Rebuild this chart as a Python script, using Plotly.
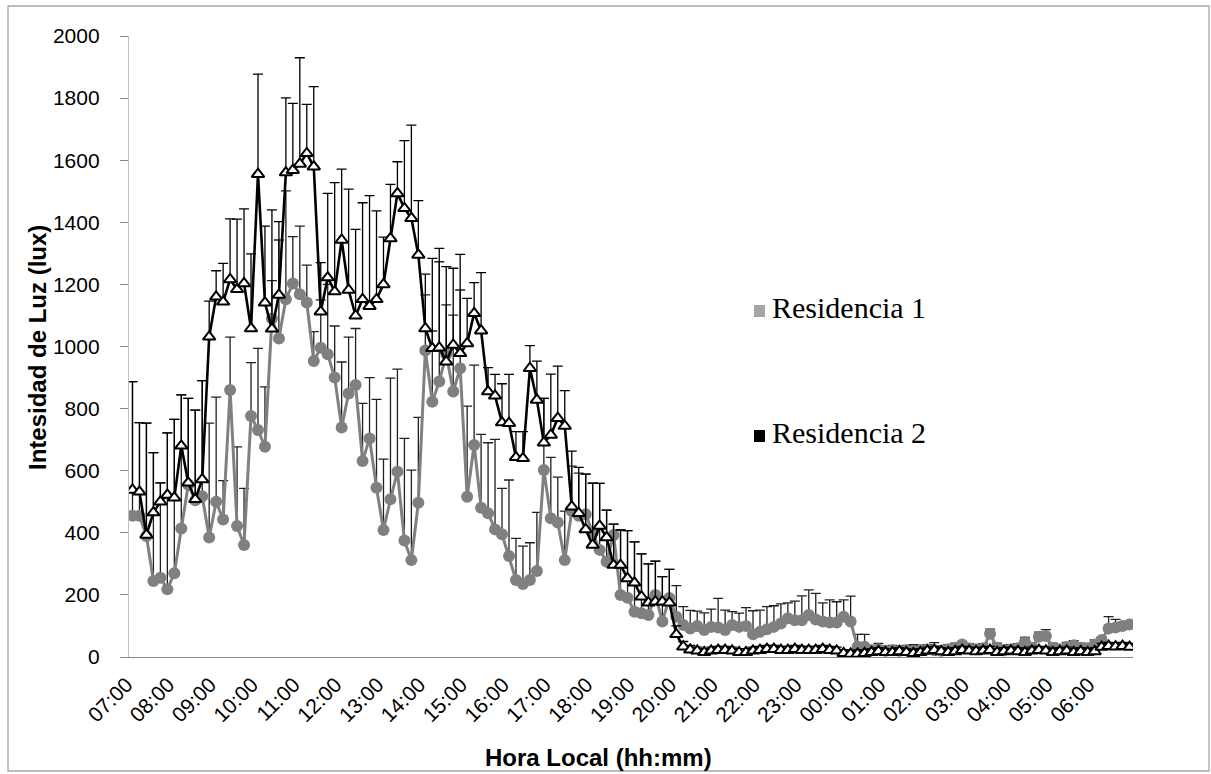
import plotly.graph_objects as go

# 10-minute intervals starting at 07:00 (144 samples over 24 h)
n_points = 144
x_idx = list(range(n_points))

hour_labels = ["07:00", "08:00", "09:00", "10:00", "11:00", "12:00", "13:00", "14:00",
               "15:00", "16:00", "17:00", "18:00", "19:00", "20:00", "21:00", "22:00",
               "23:00", "00:00", "01:00", "02:00", "03:00", "04:00", "05:00", "06:00"]
hour_positions = [6 * k for k in range(len(hour_labels))]

# Residencia 1 – mean light intensity (lux)
res1 = [455, 455, 390, 245, 255, 218, 270, 414, 555, 505,
        518, 385, 500, 443, 860, 422, 361, 776, 731, 677,
        1090, 1026, 1152, 1203, 1168, 1142, 953, 996, 975, 900,
        739, 849, 876, 631, 704, 545, 409, 508, 597, 375,
        312, 497, 987, 822, 887, 975, 855, 930, 516, 683,
        481, 463, 411, 395, 325, 248, 235, 248, 277, 602,
        447, 433, 312, 470, 455, 460, 400, 345, 307, 393,
        200, 191, 146, 141, 135, 200, 114, 190, 130, 103,
        92, 100, 87, 97, 95, 87, 103, 97, 100, 73,
        81, 89, 97, 108, 125, 118, 118, 135, 121, 114,
        111, 111, 130, 114, 33, 33, 22, 25, 20, 22,
        20, 22, 18, 22, 25, 22, 20, 25, 30, 40,
        28, 25, 28, 75, 30, 22, 25, 28, 48, 30,
        65, 68, 30, 25, 32, 38, 30, 28, 40, 55,
        92, 95, 100, 105]

# Residencia 1 – standard deviation (upper bar only)
res1_err = [432, 300, 363, 413, 306, 504, 495, 430, 278, 290,
            372, 368, 337, 125, 170, 255, 182, 172, 263, 193,
            122, 317, 349, 151, 220, 120, 95, 154, 225, 166,
            211, 181, 182, 186, 196, 285, 228, 390, 330, 329,
            290, 275, 179, 228, 386, 159, 246, 252, 292, 257,
            236, 227, 290, 148, 245, 134, 122, 120, 189, 231,
            196, 146, 158, 145, 137, 129, 160, 214, 166, 35,
            209, 216, 225, 191, 165, 109, 145, 92, 100, 59,
            58, 48, 55, 57, 94, 64, 43, 44, 59, 76,
            70, 73, 68, 63, 49, 62, 79, 81, 84, 60,
            73, 67, 54, 82, 40, 40, 15, 19, 15, 15,
            15, 15, 22, 15, 15, 24, 15, 15, 15, 9,
            15, 15, 15, 15, 15, 15, 15, 15, 15, 15,
            15, 20, 15, 15, 15, 15, 15, 15, 15, 9,
            38, 26, 12, 7]

# Residencia 2 – mean light intensity (lux)
res2 = [538, 532, 393, 465, 500, 522, 513, 680, 561, 508,
        572, 1031, 1160, 1144, 1216, 1184, 1203, 1058, 1555, 1141,
        1057, 1166, 1560, 1568, 1588, 1622, 1579, 1112, 1222, 1177,
        1343, 1182, 1099, 1152, 1130, 1152, 1200, 1348, 1493, 1445,
        1413, 1295, 1058, 994, 996, 951, 1005, 978, 1010, 1107,
        1051, 855, 841, 755, 753, 643, 640, 930, 828, 690,
        715, 769, 744, 484, 463, 411, 361, 422, 385, 296,
        296, 253, 239, 194, 175, 178, 178, 175, 73, 33,
        23, 20, 15, 20, 22, 22, 20, 15, 15, 20,
        22, 25, 25, 22, 22, 25, 22, 22, 22, 25,
        22, 20, 12, 10, 10, 12, 15, 18, 15, 15,
        18, 15, 12, 15, 20, 22, 18, 15, 18, 22,
        20, 18, 20, 22, 15, 18, 20, 18, 15, 20,
        22, 20, 15, 18, 20, 15, 18, 15, 18, 32,
        35, 33, 35, 32]

# Residencia 2 – standard deviation (upper bar only)
res2_err = [349, 223, 360, 193, 61, 200, 252, 164, 272, 287,
            318, 115, 84, 124, 195, 226, 240, 240, 322, 247,
            383, 236, 241, 215, 342, 158, 258, 158, 271, 351,
            228, 325, 278, 311, 356, 285, 152, 174, 102, 218,
            300, 175, 175, 290, 320, 306, 247, 319, 145, 99,
            187, 77, 69, 125, 157, 83, 86, 73, 125, 143,
            196, 168, 114, 179, 148, 178, 199, 137, 88, 132,
            113, 154, 132, 138, 125, 131, 81, 107, 27, 17,
            14, 12, 12, 12, 12, 12, 12, 12, 12, 12,
            12, 12, 12, 12, 12, 12, 12, 12, 12, 12,
            12, 12, 12, 12, 12, 12, 12, 12, 12, 12,
            12, 12, 12, 12, 12, 12, 12, 12, 12, 12,
            12, 12, 12, 12, 12, 12, 12, 12, 12, 12,
            12, 12, 12, 12, 12, 12, 12, 12, 12, 12,
            12, 12, 12, 12]

GREY = "#808080"

fig = go.Figure()

fig.add_trace(go.Scatter(
    x=x_idx, y=res1, mode="lines+markers", name="Residencia 1",
    line=dict(color=GREY, width=3),
    marker=dict(symbol="circle", size=12, color=GREY),
    error_y=dict(type="data", symmetric=False, array=res1_err,
                 arrayminus=[0] * n_points, color="#202020", thickness=1.3, width=5),
    showlegend=False,
))

fig.add_trace(go.Scatter(
    x=x_idx, y=res2, mode="lines+markers", name="Residencia 2",
    line=dict(color="#000000", width=2.6),
    marker=dict(symbol="triangle-up", size=11, color="#ffffff",
                line=dict(color="#000000", width=2)),
    error_y=dict(type="data", symmetric=False, array=res2_err,
                 arrayminus=[0] * n_points, color="#000000", thickness=1.3, width=5),
    showlegend=False,
))

W, H = 1211, 774
L, R, T, B = 129, 78, 36, 117
pw, ph = W - L - R, H - T - B


def px(xp):
    return (xp - L) / pw


def py(yp):
    return (H - B - yp) / ph


tick_font = dict(family="Liberation Sans, Arial, sans-serif", size=21, color="#000000")

fig.update_layout(
    width=W, height=H,
    margin=dict(l=L, r=R, t=T, b=B, pad=0),
    paper_bgcolor="#ffffff", plot_bgcolor="#ffffff",
    xaxis=dict(
        range=[-0.5, n_points - 0.5], tickmode="array",
        tickvals=hour_positions, ticktext=hour_labels, tickangle=-45,
        showline=True, linecolor="#868686", linewidth=1.3,
        showgrid=False, zeroline=False, ticks="", tickfont=tick_font,
        ticklabelstandoff=6, ticklabelshift=-6,
    ),
    yaxis=dict(
        range=[0, 2000], tickmode="linear", tick0=0, dtick=200,
        showline=True, linecolor="#bfbfbf", linewidth=1.3,
        ticks="outside", ticklen=8, tickcolor="#868686", tickwidth=1.3,
        showgrid=False, zeroline=False, tickfont=tick_font,
        ticklabelstandoff=16,
    ),
)

title_font = dict(family="Liberation Sans, Arial, sans-serif", size=24, color="#000000")

fig.add_annotation(text="<b>Intesidad de Luz (lux)</b>", xref="paper", yref="paper",
                   x=px(37), y=py(348), textangle=-90, showarrow=False,
                   xanchor="center", yanchor="middle", font=title_font)
fig.add_annotation(text="<b>Hora Local (hh:mm)</b>", xref="paper", yref="paper",
                   x=px(598), y=py(757), showarrow=False,
                   xanchor="center", yanchor="middle", font=title_font)

# legend drawn as coloured squares with serif labels
legend_font = dict(family="Liberation Serif, Times New Roman, serif", size=30, color="#000000")
for label, colour, y_top in [("Residencia 1", "#a6a6a6", 305), ("Residencia 2", "#000000", 430)]:
    fig.add_shape(type="rect", xref="paper", yref="paper",
                  x0=px(754), x1=px(765), y0=py(y_top), y1=py(y_top + 12),
                  fillcolor=colour, line=dict(width=0))
    fig.add_annotation(text=label, xref="paper", yref="paper",
                       x=px(770), y=py(y_top + 3), showarrow=False,
                       xanchor="left", yanchor="middle", font=legend_font)

# chart area border
fig.add_shape(type="rect", xref="paper", yref="paper",
              x0=px(8), x1=px(1209), y0=py(771), y1=py(6),
              line=dict(color="#a6a6a6", width=1.3), fillcolor="rgba(0,0,0,0)",
              layer="below")

fig.write_html("out.html")
